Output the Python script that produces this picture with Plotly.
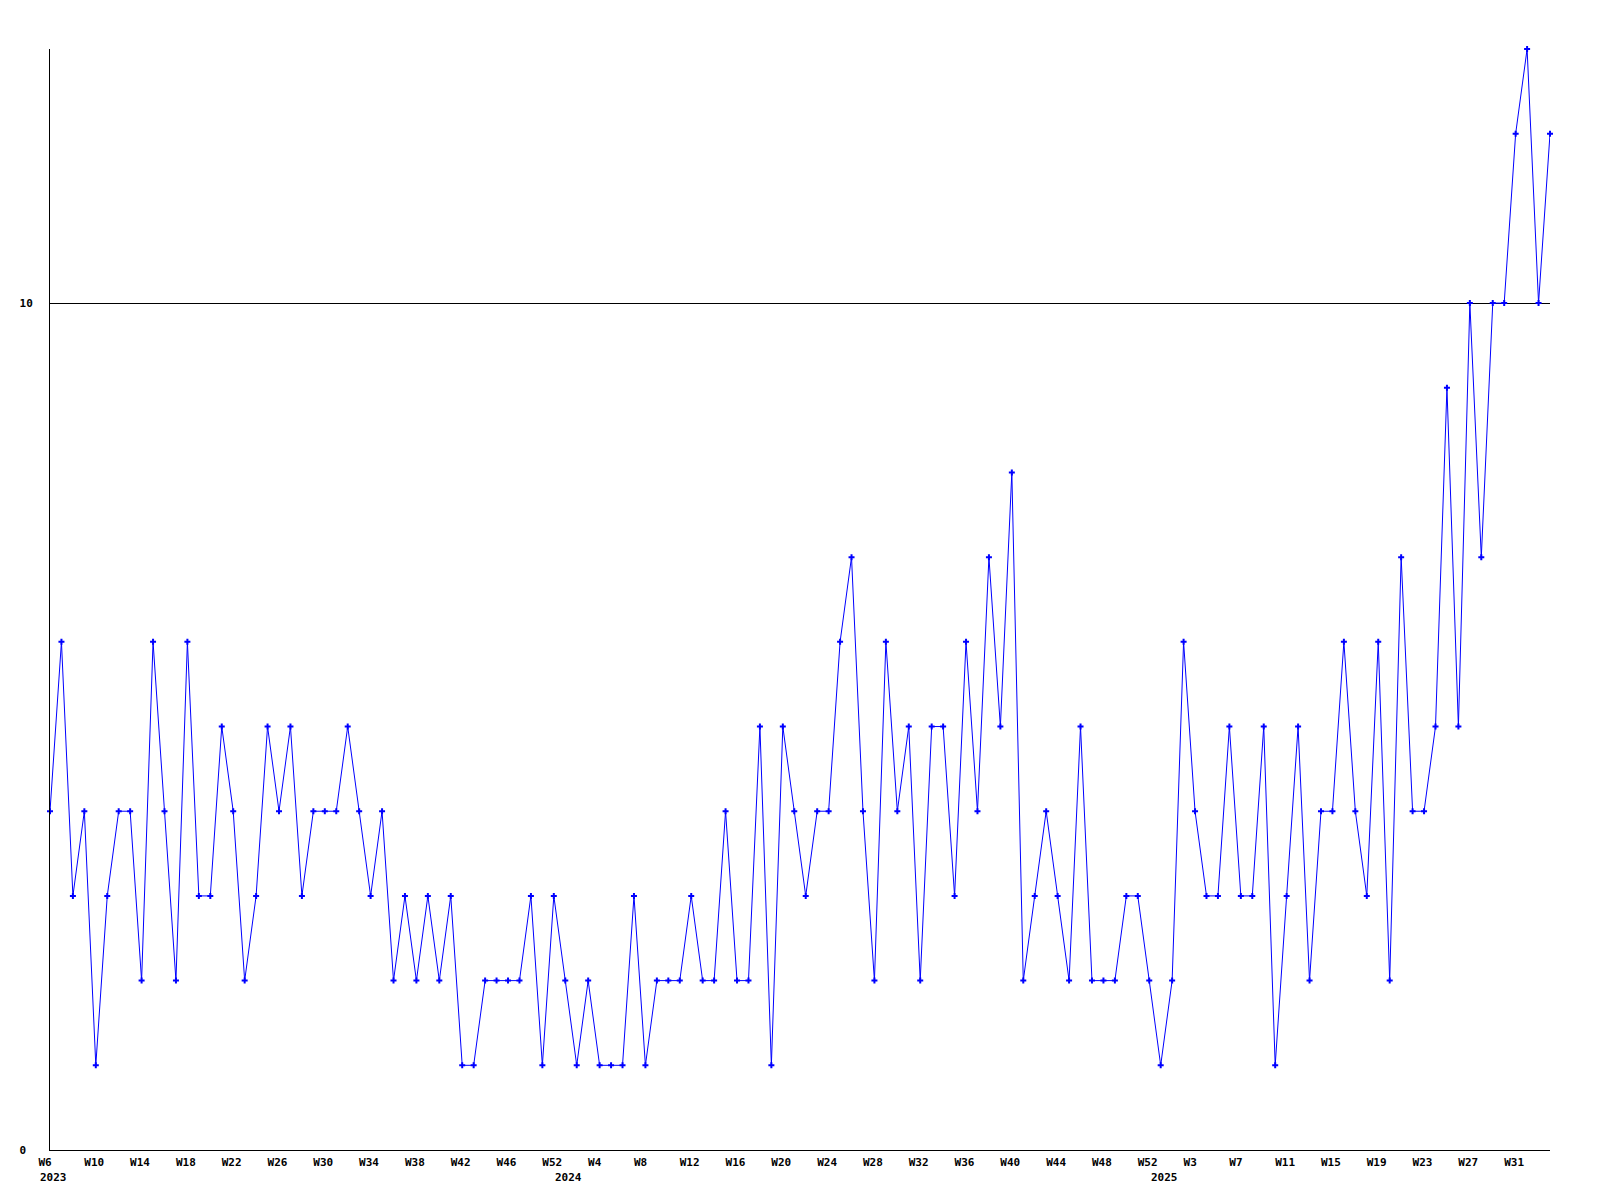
import plotly.graph_objects as go

# Weekly values, 2023 W6 .. 2025 W34 (one value per week slot)
values = [
    4, 6, 3, 4, 1, 3, 4, 4, 2, 6, 4, 2, 6, 3, 3, 5, 4, 2, 3, 5,
    4, 5, 3, 4, 4, 4, 5, 4, 3, 4, 2, 3, 2, 3, 2, 3, 1, 1, 2, 2,
    2, 2, 3, 1, 3, 2, 1, 2, 1, 1, 1, 3, 1, 2, 2, 2, 3, 2, 2, 4,
    2, 2, 5, 1, 5, 4, 3, 4, 4, 6, 7, 4, 2, 6, 4, 5, 2, 5, 5, 3,
    6, 4, 7, 5, 8, 2, 3, 4, 3, 2, 5, 2, 2, 2, 3, 3, 2, 1, 2, 6,
    4, 3, 3, 5, 3, 3, 5, 1, 3, 5, 2, 4, 4, 6, 4, 3, 6, 2, 7, 4,
    4, 5, 9, 5, 10, 7, 10, 10, 12, 13, 10, 12,
]

# Week tick labels, one for every 4th week slot
tick_labels = [
    "W6", "W10", "W14", "W18", "W22", "W26", "W30", "W34", "W38", "W42", "W46", "W52",
    "W4", "W8", "W12", "W16", "W20", "W24", "W28", "W32", "W36", "W40", "W44", "W48", "W52",
    "W3", "W7", "W11", "W15", "W19", "W23", "W27", "W31",
]
tick_step = 4

# Year labels and the week slot where each year starts
year_labels = ["2023", "2024", "2025"]
year_start_slot = [0, 45, 97]

y_tick_values = [0, 10]
y_tick_labels = ["0\u00a0", "10"]

x = list(range(len(values)))
tickvals = [i * tick_step for i in range(len(tick_labels))]

FONT = "DejaVu Sans Mono"
BLUE = "#0000ff"

fig = go.Figure()
fig.add_trace(go.Scatter(
    x=x, y=values, mode="lines+markers",
    line=dict(color=BLUE, width=1),
    marker=dict(symbol="cross", size=5, color=BLUE, line=dict(width=0)),
    cliponaxis=False,
    hoverinfo="skip",
))

annotations = []
for lbl, slot in zip(year_labels, year_start_slot):
    annotations.append(dict(
        x=slot, xref="x", y=0, yref="paper",
        text=lbl, showarrow=False,
        xanchor="left", yanchor="top",
        xshift=-12, yshift=-19,
        font=dict(family=FONT, size=11, color="black", weight="bold"),
    ))

fig.update_layout(
    width=1584, height=1184,
    margin=dict(l=42, r=42, t=41, b=42),
    paper_bgcolor="white", plot_bgcolor="white",
    showlegend=False,
    annotations=annotations,
    xaxis=dict(
        range=[0, len(values) - 1],
        tickvals=tickvals, ticktext=tick_labels,
        ticks="", showgrid=False, zeroline=False,
        showline=True, linecolor="black", linewidth=1,
        ticklabelposition="outside right", ticklabelshift=-12,
        ticklabelstandoff=2,
        tickfont=dict(family=FONT, size=11, color="black", weight="bold"),
    ),
    yaxis=dict(
        range=[0, 13],
        tickvals=y_tick_values, ticktext=y_tick_labels,
        ticks="", showgrid=True, gridcolor="black", gridwidth=1,
        zeroline=False,
        showline=True, linecolor="black", linewidth=1,
        ticklabelstandoff=14,
        tickfont=dict(family=FONT, size=11, color="black", weight="bold"),
    ),
)

fig.write_html("out.html")
